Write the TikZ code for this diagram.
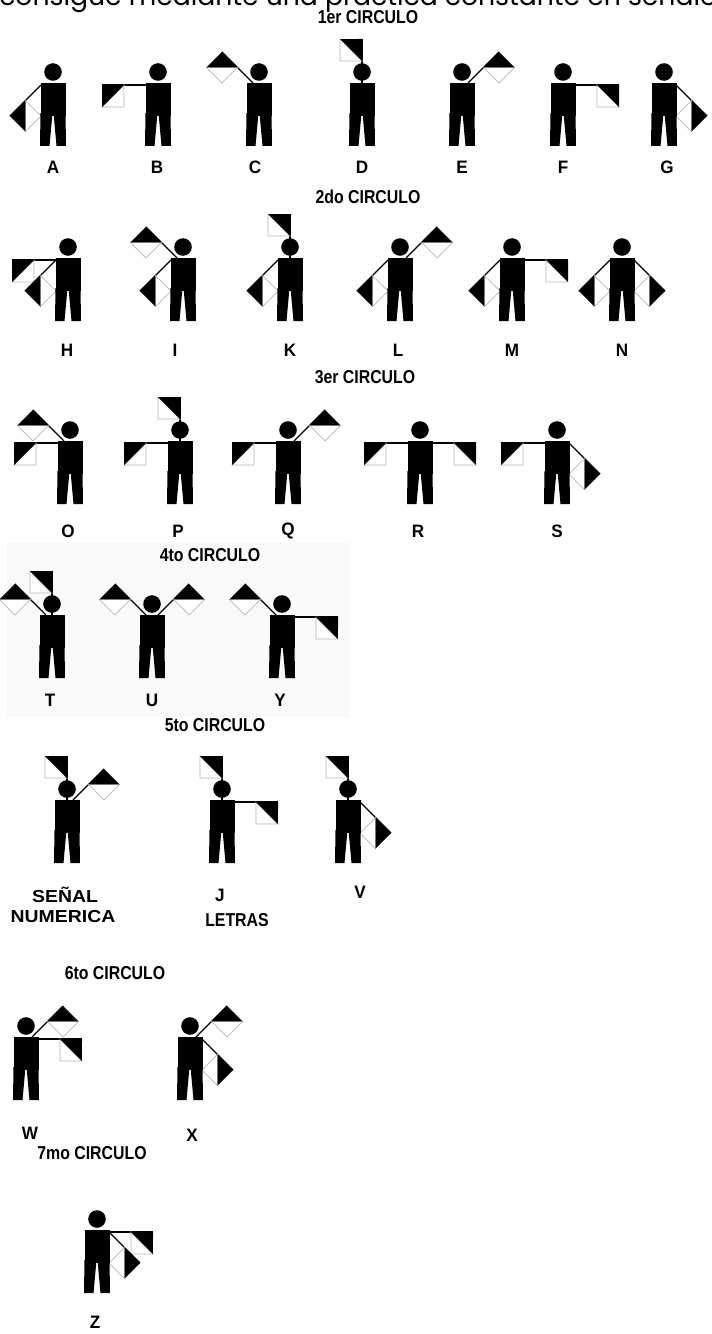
\documentclass[tikz,border=0pt]{standalone}
\usepackage{fontspec}
\usepackage{tikz}
\usetikzlibrary{calc}
\setmainfont{Poppins}
\newfontfamily\rotulo[FakeStretch=0.85]{Liberation Sans}
\newfontfamily\letrafont[FakeStretch=0.95]{Liberation Sans}
\newfontfamily\ancho[FakeStretch=1.12]{Liberation Sans}
\definecolor{grisborde}{gray}{0.72}
\definecolor{fondogris}{gray}{0.975}

% figura: nombre, posicion (hombros), angulos de los brazos levantados
\newcommand{\figura}[3]{%
  \coordinate (#1) at (#2);
  \begin{scope}[shift={(#2)}]
    % brazos con banderas
    \foreach \ang in {#3} {
      \pgfmathsetmacro{\sg}{cos(\ang) > 0.1 ? -1 : 1}
      \pgfmathsetmacro{\px}{cos(\ang) > 0.1 ? 12 : (cos(\ang) < -0.1 ? -12 : 0)}
      \pgfmathsetmacro{\px}{sin(\ang) > 0.5 ? \px/2 : \px}
      \pgfmathsetmacro{\py}{sin(\ang) > 0.5 ? 0 : -2}
      \pgfmathsetmacro{\atras}{\ang+180}
      \pgfmathsetmacro{\diag}{\ang+\sg*45}
      \draw[asta] (\px,\py) -- ++(\ang:44);
      \filldraw[mitad] (\px,\py) ++(\ang:22) -- ++(\diag:31.1) -- ++(\atras:22) -- cycle;
      \fill (\px,\py) ++(\ang:44) -- ++(\atras:22) -- ++(\diag:31.1) -- cycle;
    }
    % cuerpo y cabeza
    \fill (-12.5,0) rectangle (12.5,-33);
    \fill (-12.5,-30) -- (-0.5,-30) -- (-3.5,-63) -- (-13,-63) -- cycle;
    \fill (0.5,-30) -- (12.5,-30) -- (13,-63) -- (3.5,-63) -- cycle;
    \fill (0,11) circle (8.8);
  \end{scope}
}

\begin{document}
\begin{tikzpicture}[x=0.75pt, y=0.75pt,
    asta/.style={line width=1pt},
    mitad/.style={fill=white, draw=grisborde, line width=0.6pt},
    titulo/.style={font=\rotulo\bfseries\fontsize{14}{14}\selectfont, inner sep=0},
    letra/.style={font=\letrafont\bfseries\fontsize{13.5}{14}\selectfont, inner sep=0},
    nota/.style={font=\ancho\bfseries\fontsize{13}{14}\selectfont, inner sep=0}]
  \useasboundingbox (0,0) rectangle (712,-1334);
  \fill[white] (0,0) rectangle (712,-1334);
  \fill[fondogris] (7,-543) rectangle (350,-717);

  % texto de arriba, cortado por el borde
  \node[anchor=base west, inner sep=0, font=\fontsize{20}{21}\selectfont] (texto) at (-1,-6)
    {consigue mediante una práctica constante en señales};

  % 1er circulo
  \node[titulo] (c1) at (368,-17) {1er CIRCULO};
  \figura{fA}{53,-83}{225}
  \figura{fB}{158,-83}{180}
  \figura{fC}{259,-83}{135}
  \figura{fD}{362,-83}{90}
  \figura{fE}{462,-83}{45}
  \figura{fF}{563,-83}{0}
  \figura{fG}{664,-83}{315}
  \node[letra] (lA) at (53,-167) {A};
  \node[letra] (lB) at (157,-167) {B};
  \node[letra] (lC) at (255,-167) {C};
  \node[letra] (lD) at (362,-167) {D};
  \node[letra] (lE) at (462,-167) {E};
  \node[letra] (lF) at (563,-167) {F};
  \node[letra] (lG) at (667,-167) {G};

  % 2do circulo
  \node[titulo] (c2) at (368,-197) {2do CIRCULO};
  \figura{fH}{68,-258}{180,225}
  \figura{fI}{183,-258}{135,225}
  \figura{fK}{290,-258}{90,225}
  \figura{fL}{400,-258}{45,225}
  \figura{fM}{512,-258}{0,225}
  \figura{fN}{622,-258}{315,225}
  \node[letra] (lH) at (67,-350) {H};
  \node[letra] (lI) at (175,-350) {I};
  \node[letra] (lK) at (290,-350) {K};
  \node[letra] (lL) at (398,-350) {L};
  \node[letra] (lM) at (512,-350) {M};
  \node[letra] (lN) at (622,-350) {N};

  % 3er circulo
  \node[titulo] (c3) at (365,-377) {3er CIRCULO};
  \figura{fO}{70,-441}{135,180}
  \figura{fP}{180,-441}{90,180}
  \figura{fQ}{288,-441}{45,180}
  \figura{fR}{420,-441}{0,180}
  \figura{fS}{557,-441}{315,180}
  \node[letra] (lO) at (68,-531) {O};
  \node[letra] (lP) at (178,-531) {P};
  \node[letra] (lQ) at (288,-531) {Q};
  \node[letra] (lR) at (418,-531) {R};
  \node[letra] (lS) at (557,-531) {S};

  % 4to circulo
  \node[titulo] (c4) at (210,-555) {4to CIRCULO};
  \figura{fT}{52,-615}{90,135}
  \figura{fU}{152,-615}{45,135}
  \figura{fY}{282,-615}{0,135}
  \node[letra] (lT) at (50,-700) {T};
  \node[letra] (lU) at (152,-700) {U};
  \node[letra] (lY) at (280,-700) {Y};

  % 5to circulo
  \node[titulo] (c5) at (215,-725) {5to CIRCULO};
  \figura{fNum}{67,-800}{90,45}
  \figura{fJ}{222,-800}{90,0}
  \figura{fV}{348,-800}{90,315}
  \node[nota] (lNum1) at (65,-895) {SEÑAL};
  \node[nota] (lNum2) at (63,-917) {NUMERICA};
  \node[letra] (lJ) at (220,-895) {J};
  \node[titulo] (lLetras) at (237,-920) {LETRAS};
  \node[letra] (lV) at (360,-892) {V};

  % 6to circulo
  \node[titulo] (c6) at (115,-973) {6to CIRCULO};
  \figura{fW}{26,-1037}{45,0}
  \figura{fX}{190,-1037}{45,315}
  \node[letra] (lW) at (30,-1133) {W};
  \node[letra] (lX) at (192,-1135) {X};

  % 7mo circulo
  \node[titulo] (c7) at (92,-1153) {7mo CIRCULO};
  \figura{fZ}{97,-1230}{0,315}
  \node[letra] (lZ) at (95,-1322) {Z};
\end{tikzpicture}
\end{document}
